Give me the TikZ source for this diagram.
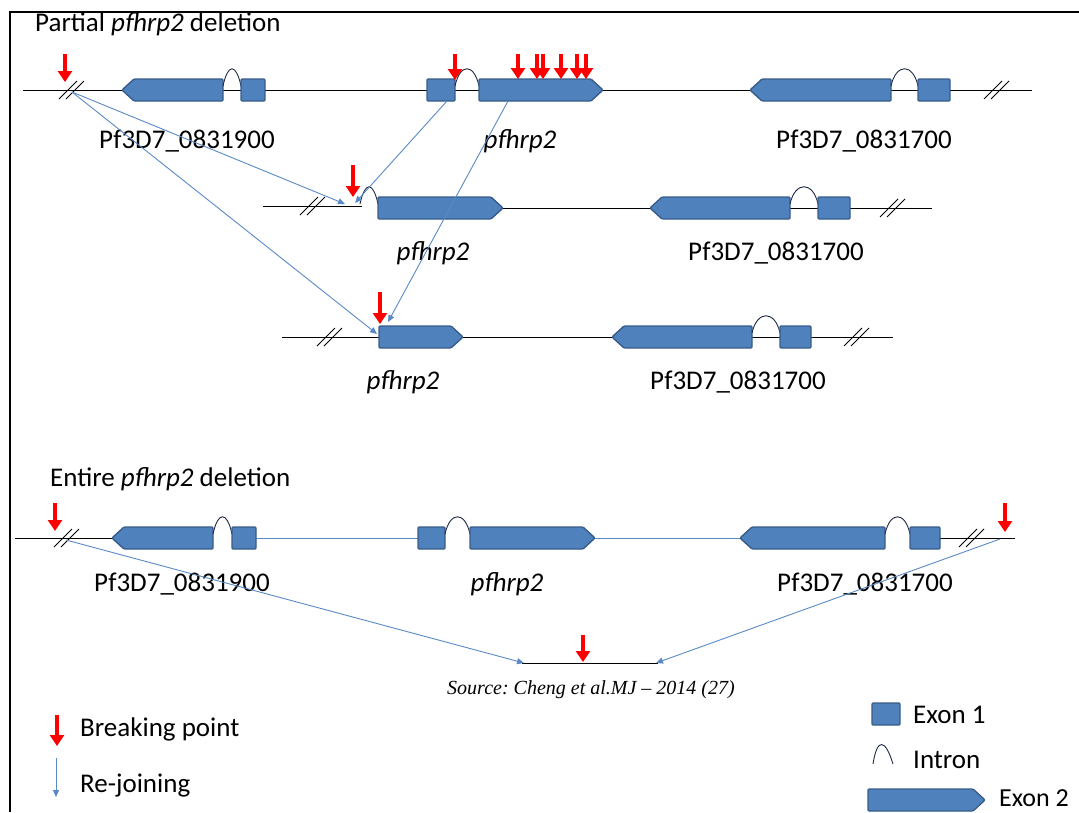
\documentclass[tikz,border=0pt]{standalone}
\usepackage{fontspec}
\setmainfont{Carlito}
\newfontfamily\srcfont{Liberation Serif}
\usetikzlibrary{arrows.meta}
\definecolor{exfill}{HTML}{4F81BD}
\definecolor{exdraw}{HTML}{385D8A}
\definecolor{conn}{HTML}{5A8AC6}
\definecolor{intr}{HTML}{1F2A44}
\tikzset{
  exon/.style={fill=exfill, draw=exdraw, line width=1.4pt, line join=round, rounded corners=1.2pt},
  backbone/.style={draw=black, line width=0.9pt},
  bluebone/.style={draw=conn, line width=0.9pt},
  intron/.style={draw=intr, line width=0.9pt},
  brk/.style={draw=red, line width=3.4pt, -{Triangle[width=14pt,length=11pt]}},
  rejoin/.style={draw=conn, line width=0.9pt, -{Triangle[width=6pt,length=7pt]}},
  slashmark/.style={draw=black, line width=0.9pt},
  lbl/.style={font=\fontsize{27}{30}\selectfont, inner sep=0pt, anchor=base},
  src/.style={font=\srcfont\itshape\fontsize{20}{22}\selectfont\frenchspacing, inner sep=0pt, anchor=base},
}
% arrow-shaped exon pointing right: name, x1, x2, y
\newcommand\geneExonR[4]{%
  \path[exon] (#2,#4-11) -- (#3-12,#4-11) -- (#3,#4) -- (#3-12,#4+11) -- (#2,#4+11) -- cycle;
  \coordinate (#1) at ({(#2+#3)/2},#4);}
% arrow-shaped exon pointing left
\newcommand\geneExonL[4]{%
  \path[exon] (#3,#4-11) -- (#2+12,#4-11) -- (#2,#4) -- (#2+12,#4+11) -- (#3,#4+11) -- cycle;
  \coordinate (#1) at ({(#2+#3)/2},#4);}
% box exon
\newcommand\geneBox[4]{%
  \path[exon] (#2,#4-11) rectangle (#3,#4+11);
  \coordinate (#1) at ({(#2+#3)/2},#4);}
% intron arc: x1, x2, y
\newcommand\geneIntron[3]{%
  \draw[intron] (#1,#3-4) .. controls (#1+5,#3-27) and (#2-5,#3-27) .. (#2,#3-4);}
% break slashes: cx, y
\newcommand\geneSlash[2]{%
  \draw[slashmark] (#1-13,#2+9) -- (#1+5,#2-9);
  \draw[slashmark] (#1-6,#2+9) -- (#1+12,#2-9);}
\begin{document}
\begin{tikzpicture}[x=1pt,y=-1pt]
\useasboundingbox (0,0) rectangle (1079,812);
\fill[white] (0,0) rectangle (1079,812);
% frame
\draw[line width=1.6pt] (10,812) -- (10,12) -- (1079,12);

% ---------- Partial deletion ----------
\node[lbl, anchor=base west] (t1) at (35,31) {Partial \textit{pfhrp2} deletion};

% Row 1
\draw[backbone] (23,90) -- (1032,90);
\geneSlash{72}{90}
\geneSlash{997}{90}
\geneExonL{aE2}{122}{223}{90}
\geneIntron{223}{241}{90}
\geneBox{aE1}{241}{265}{90}
\geneBox{hE1}{427}{455}{90}
\geneIntron{455}{479}{90}
\geneExonR{hE2}{479}{603}{90}
\geneExonL{cE2}{750}{891}{90}
\geneIntron{891}{918}{90}
\geneBox{cE1}{918}{950}{90}
\coordinate (s1) at (72,92);
\coordinate (h1b) at (447,101);
\coordinate (h2b) at (508,101);
\draw[brk] (65,54) -- (65,82);
\draw[brk] (455,54) -- (455,80);
\foreach \xx in {518,537,543,561,577,586}{\draw[brk] (\xx,54) -- (\xx,79);}
\node[lbl] (l1a) at (187,148) {Pf3D7\_0831900};
\node[lbl] (l1b) at (520,148) {\textit{pfhrp2}};
\node[lbl] (l1c) at (864,148) {Pf3D7\_0831700};

% Row 2
\draw[backbone] (263,206) -- (362,206);
\draw[backbone] (503,208) -- (932,208);
\geneSlash{313}{206}
\geneIntron{360}{378}{208}
\geneExonR{hR2}{378}{503}{208}
\geneExonL{cR2}{650}{790}{208}
\geneIntron{790}{818}{208}
\geneBox{cR1}{818}{850}{208}
\geneSlash{893}{208}
\coordinate (j2a) at (345,204);
\coordinate (j2b) at (355,203);
\draw[brk] (353,165) -- (353,197);
\node[lbl] (l2a) at (433,260) {\textit{pfhrp2}};
\node[lbl] (l2b) at (776,260) {Pf3D7\_0831700};

% Row 3
\draw[backbone] (282,337) -- (893,337);
\geneSlash{330}{337}
\geneExonR{hS2}{379}{463}{337}
\geneExonL{cS2}{612}{752}{337}
\geneIntron{752}{780}{337}
\geneBox{cS1}{780}{811}{337}
\geneSlash{857}{337}
\coordinate (j3a) at (377,334);
\coordinate (j3b) at (388,322);
\draw[brk] (380,292) -- (380,324);
\node[lbl] (l3a) at (403,389) {\textit{pfhrp2}};
\node[lbl] (l3b) at (738,389) {Pf3D7\_0831700};

% re-joining connectors (partial)
\draw[rejoin] (s1) -- (j2a);
\draw[rejoin] (h1b) -- (j2b);
\draw[rejoin] (s1) -- (j3a);
\draw[rejoin] (h2b) -- (j3b);

% ---------- Entire deletion ----------
\node[lbl, anchor=base west] (t2) at (50,486) {Entire \textit{pfhrp2} deletion};

% Row 4
\draw[backbone] (15,538) -- (112,538);
\draw[bluebone] (256,538) -- (418,538);
\draw[bluebone] (595,538) -- (740,538);
\draw[backbone] (940,538) -- (1015,538);
\geneSlash{67}{538}
\geneSlash{972}{538}
\geneExonL{aT2}{112}{213}{538}
\geneIntron{213}{232}{538}
\geneBox{aT1}{232}{256}{538}
\geneBox{hT1}{418}{445}{538}
\geneIntron{445}{470}{538}
\geneExonR{hT2}{470}{595}{538}
\geneExonL{cT2}{740}{885}{538}
\geneIntron{885}{910}{538}
\geneBox{cT1}{910}{940}{538}
\coordinate (s4a) at (66,540);
\coordinate (s4b) at (1000,539);
\draw[brk] (55,503) -- (55,531);
\draw[brk] (1005,503) -- (1005,532);
\node[lbl] (l4a) at (182,591) {Pf3D7\_0831900};
\node[lbl] (l4b) at (507,591) {\textit{pfhrp2}};
\node[lbl] (l4c) at (865,591) {Pf3D7\_0831700};

% Row 5
\draw[backbone] (522,663) -- (658,663);
\coordinate (j5a) at (524,663);
\coordinate (j5b) at (656,663);
\draw[brk] (583,635) -- (583,662);
\draw[rejoin] (s4a) -- (j5a);
\draw[rejoin] (s4b) -- (j5b);
\node[src] (srcnote) at (591,694) {Source: Cheng et al.MJ – 2014 (27)};

% ---------- Legend ----------
\draw[brk] (57,715) -- (57,746);
\node[lbl, anchor=base west] (lg1) at (80,736) {Breaking point};
\draw[rejoin] (56,758) -- (56,797);
\node[lbl, anchor=base west] (lg2) at (80,792) {Re-joining};
\geneBox{lgE1}{872}{900}{714}
\node[lbl, anchor=base west] (lg3) at (913,723) {Exon 1};
\draw[intron] (873,764) .. controls (877,738) and (885,738) .. (893,764);
\node[lbl, anchor=base west] (lg4) at (913,768) {Intron};
\geneExonR{lgE2}{868}{985}{800}
\node[lbl, anchor=base west, font=\fontsize{26}{28}\selectfont] (lg5) at (999,806) {Exon 2};
\end{tikzpicture}
\end{document}
